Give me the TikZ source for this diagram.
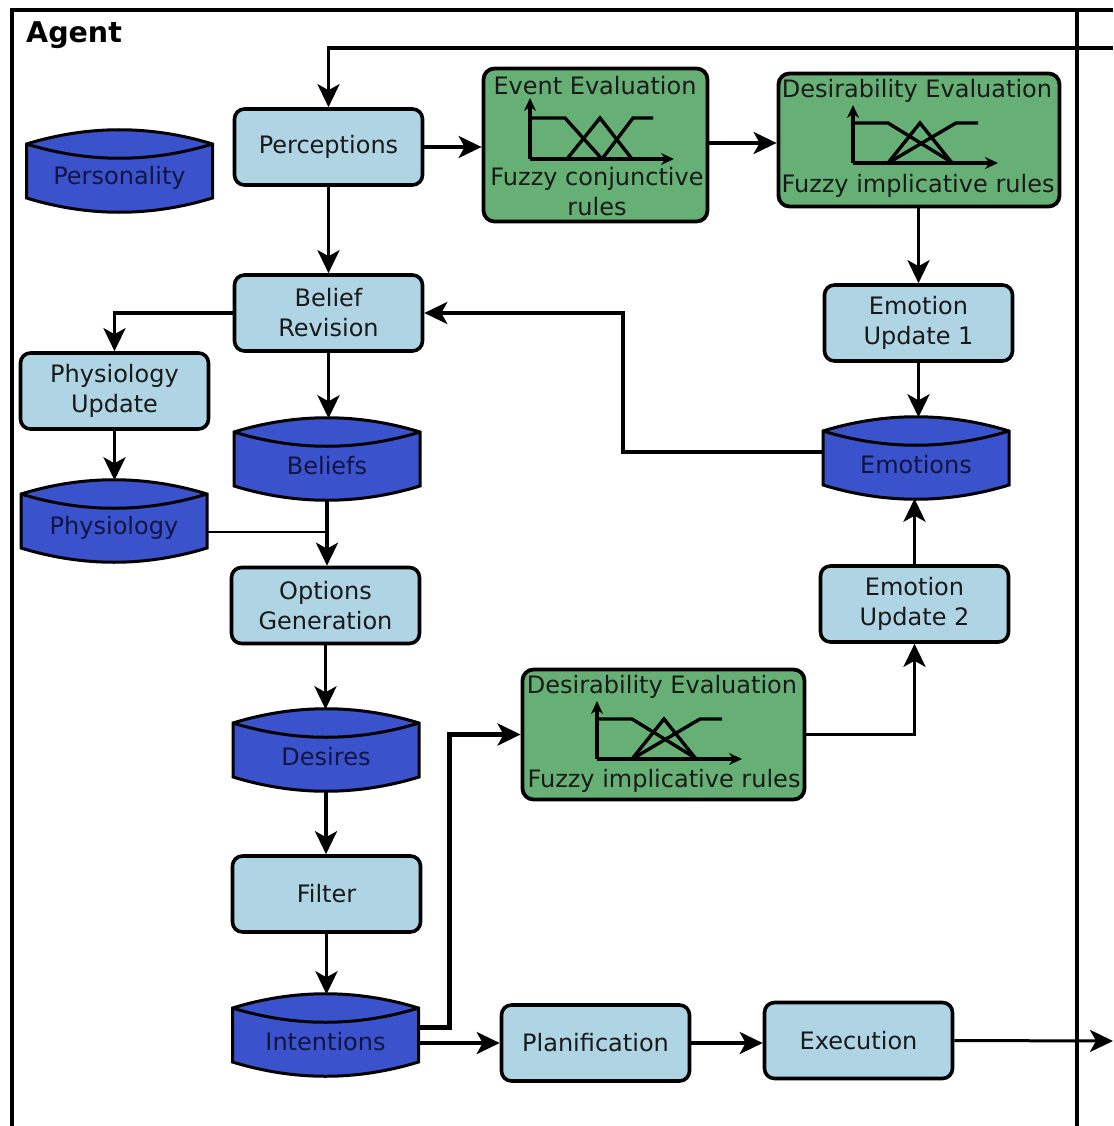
\documentclass[tikz,border=0pt]{standalone}
\usepackage{fontspec}
\setmainfont{DejaVu Sans}
\usetikzlibrary{arrows.meta,calc}
\definecolor{lb}{RGB}{175,213,229}
\definecolor{gr}{RGB}{102,176,118}
\definecolor{db}{RGB}{58,82,204}
\definecolor{navy}{RGB}{18,20,64}
\definecolor{txt}{RGB}{25,25,25}
\newcommand\fs{\fontsize{24}{30}\selectfont}
\newcommand\drum[4]{%
  \begin{scope}[shift={(#2,#3)}]
    \filldraw[drumsty] (-93,-27) .. controls (-31,-46) and (31,-46) .. (93,-27) -- (93,27) .. controls (31,46) and (-31,46) .. (-93,27) -- cycle;
    \draw[drumsty] (-93,-27) .. controls (-31,-8) and (31,-8) .. (93,-27);
  \end{scope}
  \node[drumbox] (#1) at (#2,#3) {};
  \node[drumtext] (#1-t) at (#2,#3+7) {#4};
}
\newcommand\fuzzyA[2]{%
  \begin{scope}[shift={(#1,#2)}]
    \draw[plotline,-{Stealth[length=13pt,width=12pt]}] (0,0) -- (0,-61);
    \draw[plotline,-{Stealth[length=13pt,width=12pt]}] (0,0) -- (144,0);
    \draw[plotline] (0,-41) -- (35,-41) -- (72,0);
    \draw[plotline] (37,0) -- (70,-41) -- (102,0);
    \draw[plotline] (72,0) -- (103,-41) -- (123,-41);
  \end{scope}
}
\newcommand\fuzzyB[2]{%
  \begin{scope}[shift={(#1,#2)}]
    \draw[plotline,-{Stealth[length=13pt,width=12pt]}] (0,0) -- (0,-58);
    \draw[plotline,-{Stealth[length=13pt,width=12pt]}] (0,0) -- (145,0);
    \draw[plotline] (0,-40) -- (35,-40) -- (100,0);
    \draw[plotline] (35,0) -- (67,-40) -- (99,0);
    \draw[plotline] (35,0) -- (103,-40) -- (125,-40);
  \end{scope}
}
\begin{document}
\begin{tikzpicture}[x=1pt,y=-1pt,
  box/.style={draw, line width=3.6pt, rounded corners=10pt, fill=lb, minimum width=188pt, minimum height=76pt, inner sep=0pt, font=\fs, text=txt, align=center},
  gbox/.style={draw, line width=3.8pt, rounded corners=11pt, fill=gr, inner sep=0pt},
  gtext/.style={font=\fs, text=txt, inner sep=0pt, align=center},
  drumsty/.style={draw=black, fill=db, line width=3pt},
  drumbox/.style={minimum width=187pt, minimum height=81pt, inner sep=0pt},
  drumtext/.style={font=\fs, text=navy, inner sep=0pt},
  plotline/.style={line width=3.4pt, black},
  arr/.style={line width=3.6pt, -{Stealth[length=23pt,width=22pt,inset=6pt]}},
  ln/.style={line width=3.6pt}]
\useasboundingbox (0,0) rectangle (1113,1126);
% frame
\draw[line width=4.5pt] (12,1126) -- (12,10) -- (1113,10);
\draw[line width=4.5pt] (1077,10) -- (1077,1126);
\node[anchor=west, font=\fontsize{28.5}{30}\selectfont\bfseries, inner sep=0pt] (agent) at (26,35) {Agent};

% blue boxes
\node[box] (perc) at (328.5,147) {Perceptions};
\node[box] (br) at (328.5,313) {Belief\\Revision};
\node[box] (eu1) at (918.5,323) {Emotion\\Update 1};
\node[box] (pu) at (114.5,391) {Physiology\\Update};
\node[box] (og) at (325.5,605.5) {Options\\Generation};
\node[box] (eu2) at (914.5,604) {Emotion\\Update 2};
\node[box] (filt) at (326.5,894) {Filter};
\node[box] (plan) at (595.5,1043) {Planification};
\node[box] (exec) at (858.5,1040.5) {Execution};

% green boxes
\node[gbox, minimum width=224pt, minimum height=153pt] (ee) at (595.5,145) {};
\node[gtext] (ee-t) at (595,86) {Event Evaluation};
\node[gtext] (ee-b) at (597,192) {Fuzzy conjunctive\\rules};
\fuzzyA{530}{159}

\node[gbox, minimum width=281pt, minimum height=133pt] (de1) at (919,140) {};
\node[gtext] (de1-t) at (917,91) {Desirability Evaluation};
\node[gtext] (de1-b) at (918,186) {Fuzzy implicative rules};
\fuzzyB{853}{163}

\node[gbox, minimum width=282pt, minimum height=130pt] (de2) at (663.5,734.5) {};
\node[gtext] (de2-t) at (662,687) {Desirability Evaluation};
\node[gtext] (de2-b) at (664,781) {Fuzzy implicative rules};
\fuzzyB{597}{759}

% drums
\drum{pers}{119.5}{171}{Personality}
\drum{bel}{327}{459}{Beliefs}
\drum{phys}{114}{521}{Physiology}
\drum{emo}{916}{458}{Emotions}
\drum{des}{326}{750}{Desires}
\drum{int}{325.5}{1035}{Intentions}

% coordinates
\coordinate (fbin) at (1113,48);
\coordinate (outc) at (1113,1041);
\coordinate (k1) at (623,380);
\coordinate (k2) at (449,900);
\coordinate (jn) at (327,532);

% connectors
\draw[arr] (fbin) -| (perc.north);
\draw[arr] (perc.east) -- (perc.east -| ee.west);
\draw[arr] (ee.east |- 0,143) -- (de1.west |- 0,143);
\draw[arr] (de1.south -| eu1.north) -- (eu1.north);
\draw[arr] (eu1.south) -- (eu1.south |- emo.north);
\draw[arr] ([yshift=6pt]emo.west) -| (k1) |- (br.east);
\draw[arr] (perc.south) -- (br.north);
\draw[arr] (br.west) -| (pu.north);
\draw[arr] (br.south) -- (br.south |- bel.north);
\draw[arr] (pu.south) -- (pu.south |- phys.north);
\draw[arr] (bel.south) -- (bel.south |- og.north);
\draw[line width=2.5pt] ([yshift=-11pt]phys.east) -- (jn);
\draw[arr] (og.south) -- (og.south |- des.north);
\draw[arr] (des.south) -- (des.south |- filt.north);
\draw[arr] (filt.south) -- (filt.south |- int.north);
\draw[arr, line width=5pt] ([yshift=8pt]int.east) -| (k2) |- (de2.west);
\draw[arr] (int.east |- plan.west) -- (plan.west);
\draw[arr] (plan.east) -- (plan.east -| exec.west);
\draw[arr, line width=3pt] (exec.east) -- (outc);
\draw[arr] (de2.east) -| (eu2.south);
\draw[arr] (eu2.north) -- (eu2.north |- emo.south);
\end{tikzpicture}
\end{document}
